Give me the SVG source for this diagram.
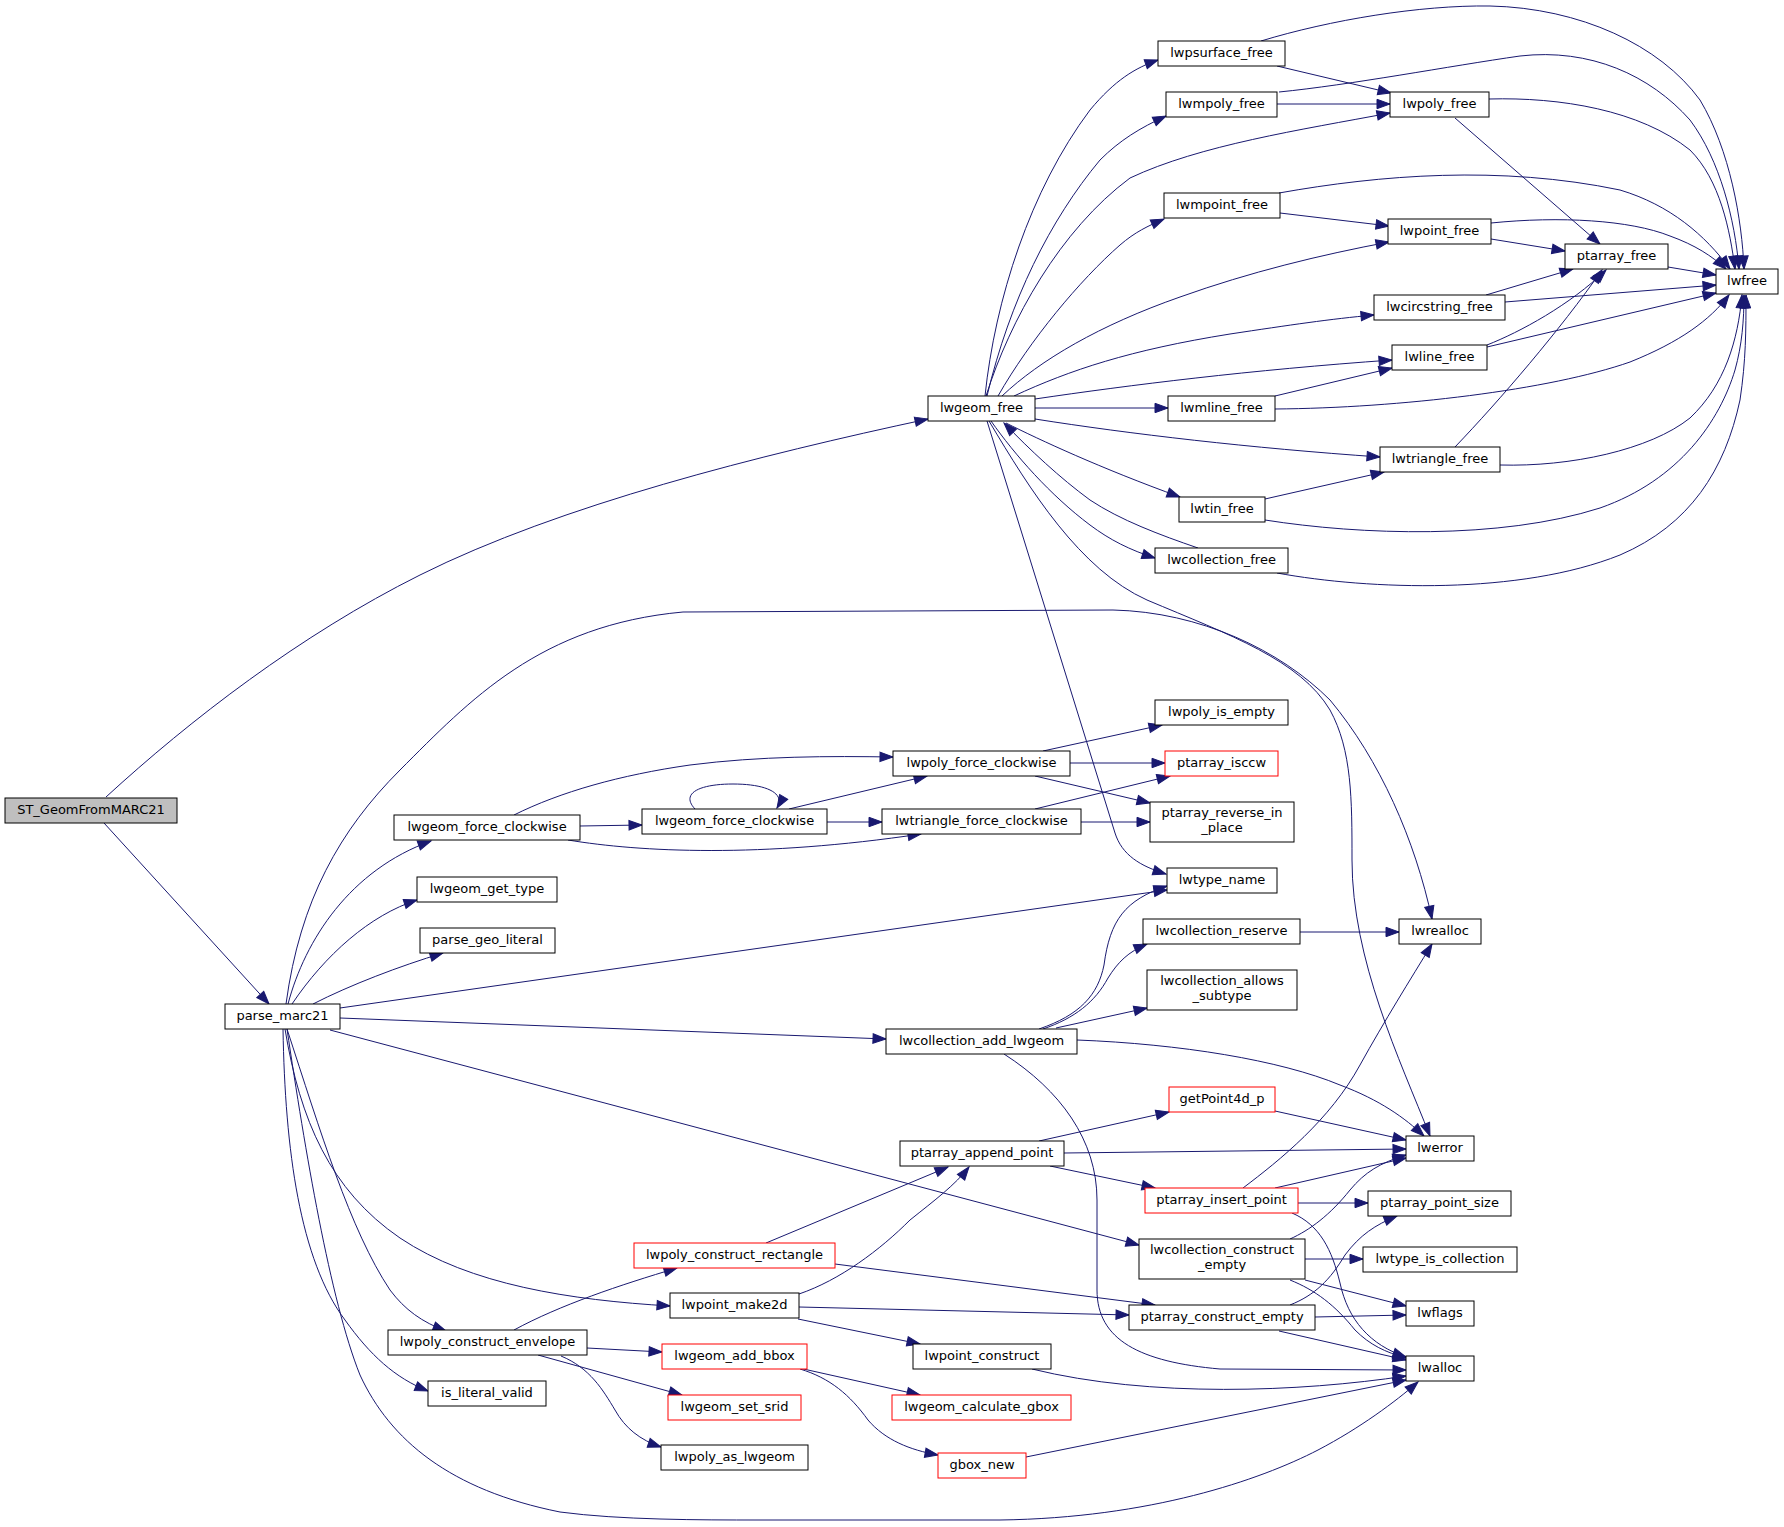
<svg xmlns="http://www.w3.org/2000/svg" width="1784" height="1527" viewBox="0 0 1784 1527">
<style>
.n rect{fill:#ffffff;stroke:#000000;stroke-width:1}
.r rect{stroke:#ff0000}
.c rect{fill:#bfbfbf}
text{font-family:"DejaVu Sans","Liberation Sans",sans-serif;font-size:13px;text-anchor:middle;fill:#000000}
#edges path{fill:none;stroke:#191970;stroke-width:1;marker-end:url(#a)}
</style>
<defs>
<marker id="a" markerUnits="userSpaceOnUse" markerWidth="15" markerHeight="11" viewBox="0 0 15 11" refX="13" refY="5" orient="auto" overflow="visible">
<path d="M0,0.3 L13,5 L0,9.7 z" fill="#191970" stroke="#191970" stroke-width="1"/>
</marker>
</defs>
<rect x="0" y="0" width="1784" height="1527" fill="#ffffff"/>
<g id="edges">
<path d="M106,797 C190,720 300,635 420,575 C560,505 760,455 928,419"/>
<path d="M104,823 L269,1004"/>
<path d="M288,1004 C305,940 350,870 431,841"/>
<path d="M292,1004 C325,955 370,915 417,900"/>
<path d="M313,1004 C350,985 400,966 443,953"/>
<path d="M286,1004 C300,900 340,830 400,770 C470,700 540,625 683,612 L1113,610 C1200,612 1280,650 1330,700 C1380,760 1415,840 1432,919"/>
<path d="M989,421 C1030,490 1080,570 1147,600 C1230,635 1300,660 1330,710 C1352,750 1352,800 1352,860 C1352,960 1400,1060 1430,1136"/>
<path d="M987,421 L1115,833 C1122,855 1140,866 1166,874"/>
<path d="M985,396 C995,300 1030,190 1090,110 C1115,80 1135,68 1158,60"/>
<path d="M987,396 C1010,300 1050,220 1100,160 C1120,140 1140,128 1166,116"/>
<path d="M986,396 C1010,320 1060,230 1130,178 C1200,145 1300,130 1390,113"/>
<path d="M998,396 C1030,340 1080,280 1120,245 C1135,232 1148,226 1164,219"/>
<path d="M1002,396 C1040,360 1100,325 1180,297 C1250,272 1320,255 1389,242"/>
<path d="M1014,396 C1070,370 1130,350 1230,334 C1290,325 1330,319 1374,315"/>
<path d="M1035,399 C1130,385 1250,370 1392,360"/>
<path d="M1035,408 L1168,408"/>
<path d="M1035,419 C1130,434 1250,448 1380,457"/>
<path d="M1006,423 C1040,440 1100,468 1180,497"/>
<path d="M1198,548 C1160,535 1120,520 1090,500 C1060,478 1030,450 1004,423"/>
<path d="M991,421 C1015,455 1050,495 1090,525 C1110,540 1130,550 1155,558"/>
<path d="M1261,41 C1330,20 1420,5 1490,6 C1580,8 1660,45 1700,100 C1730,150 1742,220 1744,269"/>
<path d="M1277,66 L1391,93"/>
<path d="M1277,104 L1390,104"/>
<path d="M1279,92 C1350,85 1450,66 1520,56 C1590,48 1650,75 1690,120 C1720,160 1735,220 1739,269"/>
<path d="M1489,99 C1560,97 1640,110 1690,150 C1720,180 1730,230 1735,269"/>
<path d="M1455,118 L1600,244"/>
<path d="M1279,193 C1380,175 1500,165 1620,190 C1670,205 1705,235 1730,269"/>
<path d="M1280,213 L1389,226"/>
<path d="M1491,223 C1560,216 1630,220 1670,236 C1695,245 1712,256 1726,269"/>
<path d="M1491,239 L1565,251"/>
<path d="M1668,267 L1716,275"/>
<path d="M1486,295 L1573,269"/>
<path d="M1505,302 L1716,285"/>
<path d="M1487,345 C1520,332 1570,305 1606,270"/>
<path d="M1487,347 L1716,293"/>
<path d="M1275,396 L1392,368"/>
<path d="M1275,409 C1400,408 1550,390 1630,362 C1680,342 1710,320 1729,295"/>
<path d="M1455,447 C1500,400 1560,330 1602,270"/>
<path d="M1500,465 C1570,467 1650,450 1690,418 C1725,385 1738,340 1742,295"/>
<path d="M1265,499 L1384,472"/>
<path d="M1265,520 C1360,535 1500,540 1600,508 C1680,480 1720,420 1735,370 C1742,345 1744,320 1744,295"/>
<path d="M1277,573 C1370,590 1520,595 1620,555 C1690,525 1725,470 1740,400 C1746,360 1746,330 1746,295"/>
<path d="M514,815 C560,792 620,775 690,765 C760,756 830,756 893,757"/>
<path d="M580,826 L642,825"/>
<path d="M568,840 C640,852 760,858 921,834"/>
<path d="M695,809 C680,793 700,784 733,784 C766,784 786,793 777,808"/>
<path d="M789,809 L927,776"/>
<path d="M827,822 L882,822"/>
<path d="M1043,751 L1162,725"/>
<path d="M1070,763 L1165,763"/>
<path d="M1035,776 L1150,803"/>
<path d="M1035,809 L1170,776"/>
<path d="M1081,822 L1150,822"/>
<path d="M340,1008 L1167,890"/>
<path d="M340,1018 L886,1039"/>
<path d="M330,1030 L1139,1245"/>
<path d="M285,1029 C300,1120 330,1190 400,1238 C470,1285 570,1300 670,1306"/>
<path d="M287,1029 C320,1130 350,1230 390,1290 C405,1310 422,1322 446,1331"/>
<path d="M283,1029 C285,1150 300,1260 345,1320 C370,1355 395,1378 428,1391"/>
<path d="M287,1029 C305,1150 330,1300 360,1375 C390,1440 450,1490 560,1512 C620,1520 700,1520 760,1520 L1000,1520 C1150,1518 1260,1480 1318,1450 C1360,1428 1395,1402 1418,1382"/>
<path d="M514,1330 C560,1305 620,1285 677,1268"/>
<path d="M587,1348 L662,1352"/>
<path d="M538,1355 L682,1395"/>
<path d="M561,1356 C590,1368 603,1390 615,1410 C625,1428 640,1440 661,1447"/>
<path d="M766,1243 L948,1167"/>
<path d="M835,1264 L1155,1305"/>
<path d="M799,1294 C840,1280 880,1250 910,1220 C935,1200 955,1185 969,1167"/>
<path d="M799,1307 L1129,1315"/>
<path d="M798,1319 L920,1344"/>
<path d="M799,1368 L920,1395"/>
<path d="M800,1369 C830,1378 850,1395 868,1420 C885,1440 910,1450 938,1455"/>
<path d="M1032,1369 C1150,1398 1300,1392 1406,1376"/>
<path d="M1026,1457 L1406,1380"/>
<path d="M1039,1029 C1080,1015 1098,995 1104,965 C1110,920 1125,900 1167,886"/>
<path d="M1043,1029 C1075,1018 1095,1002 1108,978 C1118,962 1128,952 1147,944"/>
<path d="M1056,1028 L1147,1008"/>
<path d="M1077,1040 C1180,1044 1280,1060 1340,1085 C1380,1100 1405,1118 1424,1136"/>
<path d="M1004,1054 C1060,1090 1097,1140 1097,1200 L1097,1290 C1097,1340 1140,1362 1220,1369 L1406,1370"/>
<path d="M1300,932 L1399,932"/>
<path d="M1275,1111 L1406,1140"/>
<path d="M1039,1141 L1169,1112"/>
<path d="M1064,1153 L1406,1149"/>
<path d="M1050,1166 L1155,1188"/>
<path d="M1243,1188 C1280,1160 1330,1120 1360,1065 C1385,1020 1410,980 1432,944"/>
<path d="M1275,1188 L1406,1158"/>
<path d="M1298,1203 L1368,1203"/>
<path d="M1292,1213 C1320,1225 1332,1250 1340,1283 C1348,1320 1370,1345 1406,1357"/>
<path d="M1290,1239 C1310,1230 1330,1215 1350,1190 C1365,1172 1380,1163 1406,1155"/>
<path d="M1305,1259 L1363,1259"/>
<path d="M1305,1280 L1406,1306"/>
<path d="M1290,1280 C1315,1290 1335,1305 1355,1330 C1370,1345 1385,1352 1406,1358"/>
<path d="M1290,1305 C1315,1295 1330,1280 1345,1255 C1360,1235 1375,1225 1397,1216"/>
<path d="M1315,1317 L1406,1315"/>
<path d="M1279,1331 L1406,1360"/>
</g>
<g id="n1" class="n c"><rect x="5" y="798" width="172" height="25"/><text x="91" y="814">ST_GeomFromMARC21</text></g>
<g id="n2" class="n"><rect x="225" y="1004" width="115" height="25"/><text x="282.5" y="1020">parse_marc21</text></g>
<g id="n3" class="n"><rect x="928" y="396" width="107" height="25"/><text x="981.5" y="412">lwgeom_free</text></g>
<g id="n4" class="n"><rect x="1158" y="41" width="127" height="25"/><text x="1221.5" y="57">lwpsurface_free</text></g>
<g id="n5" class="n"><rect x="1166" y="92" width="111" height="25"/><text x="1221.5" y="108">lwmpoly_free</text></g>
<g id="n6" class="n"><rect x="1390" y="92" width="99" height="25"/><text x="1439.5" y="108">lwpoly_free</text></g>
<g id="n7" class="n"><rect x="1164" y="193" width="116" height="25"/><text x="1222" y="209">lwmpoint_free</text></g>
<g id="n8" class="n"><rect x="1388" y="219" width="103" height="25"/><text x="1439.5" y="235">lwpoint_free</text></g>
<g id="n9" class="n"><rect x="1565" y="244" width="103" height="25"/><text x="1616.5" y="260">ptarray_free</text></g>
<g id="n10" class="n"><rect x="1716" y="269" width="62" height="25"/><text x="1747" y="285">lwfree</text></g>
<g id="n11" class="n"><rect x="1374" y="295" width="131" height="25"/><text x="1439.5" y="311">lwcircstring_free</text></g>
<g id="n12" class="n"><rect x="1392" y="345" width="95" height="25"/><text x="1439.5" y="361">lwline_free</text></g>
<g id="n13" class="n"><rect x="1168" y="396" width="107" height="25"/><text x="1221.5" y="412">lwmline_free</text></g>
<g id="n14" class="n"><rect x="1380" y="447" width="120" height="25"/><text x="1440" y="463">lwtriangle_free</text></g>
<g id="n15" class="n"><rect x="1179" y="497" width="86" height="25"/><text x="1222" y="513">lwtin_free</text></g>
<g id="n16" class="n"><rect x="1155" y="548" width="133" height="25"/><text x="1221.5" y="564">lwcollection_free</text></g>
<g id="n17" class="n"><rect x="1155" y="700" width="133" height="25"/><text x="1221.5" y="716">lwpoly_is_empty</text></g>
<g id="n18" class="n"><rect x="893" y="751" width="177" height="25"/><text x="981.5" y="767">lwpoly_force_clockwise</text></g>
<g id="n19" class="n r"><rect x="1165" y="751" width="113" height="25"/><text x="1221.5" y="767">ptarray_isccw</text></g>
<g id="n20" class="n"><rect x="394" y="815" width="186" height="25"/><text x="487" y="831">lwgeom_force_clockwise</text></g>
<g id="n21" class="n"><rect x="642" y="809" width="185" height="25"/><text x="734.5" y="825">lwgeom_force_clockwise</text></g>
<g id="n22" class="n"><rect x="882" y="809" width="199" height="25"/><text x="981.5" y="825">lwtriangle_force_clockwise</text></g>
<g id="n23" class="n"><rect x="1150" y="802" width="144" height="40"/><text x="1222" y="817">ptarray_reverse_in</text><text x="1222" y="832">_place</text></g>
<g id="n24" class="n"><rect x="1167" y="868" width="110" height="25"/><text x="1222" y="884">lwtype_name</text></g>
<g id="n25" class="n"><rect x="417" y="877" width="140" height="25"/><text x="487" y="893">lwgeom_get_type</text></g>
<g id="n26" class="n"><rect x="420" y="928" width="135" height="25"/><text x="487.5" y="944">parse_geo_literal</text></g>
<g id="n27" class="n"><rect x="1143" y="919" width="157" height="25"/><text x="1221.5" y="935">lwcollection_reserve</text></g>
<g id="n28" class="n"><rect x="1399" y="919" width="82" height="25"/><text x="1440" y="935">lwrealloc</text></g>
<g id="n29" class="n"><rect x="1147" y="970" width="150" height="40"/><text x="1222" y="985">lwcollection_allows</text><text x="1222" y="1000">_subtype</text></g>
<g id="n30" class="n"><rect x="886" y="1029" width="191" height="25"/><text x="981.5" y="1045">lwcollection_add_lwgeom</text></g>
<g id="n31" class="n r"><rect x="1169" y="1087" width="106" height="25"/><text x="1222" y="1103">getPoint4d_p</text></g>
<g id="n32" class="n"><rect x="1406" y="1136" width="68" height="25"/><text x="1440" y="1152">lwerror</text></g>
<g id="n33" class="n"><rect x="900" y="1141" width="164" height="25"/><text x="982" y="1157">ptarray_append_point</text></g>
<g id="n34" class="n r"><rect x="1145" y="1188" width="153" height="25"/><text x="1221.5" y="1204">ptarray_insert_point</text></g>
<g id="n35" class="n"><rect x="1368" y="1191" width="143" height="25"/><text x="1439.5" y="1207">ptarray_point_size</text></g>
<g id="n36" class="n"><rect x="1139" y="1239" width="166" height="40"/><text x="1222" y="1254">lwcollection_construct</text><text x="1222" y="1269">_empty</text></g>
<g id="n37" class="n"><rect x="1363" y="1247" width="154" height="25"/><text x="1440" y="1263">lwtype_is_collection</text></g>
<g id="n38" class="n r"><rect x="634" y="1243" width="201" height="25"/><text x="734.5" y="1259">lwpoly_construct_rectangle</text></g>
<g id="n39" class="n"><rect x="670" y="1293" width="129" height="25"/><text x="734.5" y="1309">lwpoint_make2d</text></g>
<g id="n40" class="n"><rect x="1129" y="1305" width="186" height="25"/><text x="1222" y="1321">ptarray_construct_empty</text></g>
<g id="n41" class="n"><rect x="1406" y="1301" width="68" height="25"/><text x="1440" y="1317">lwflags</text></g>
<g id="n42" class="n"><rect x="388" y="1330" width="199" height="25"/><text x="487.5" y="1346">lwpoly_construct_envelope</text></g>
<g id="n43" class="n r"><rect x="662" y="1344" width="145" height="25"/><text x="734.5" y="1360">lwgeom_add_bbox</text></g>
<g id="n44" class="n"><rect x="913" y="1344" width="138" height="25"/><text x="982" y="1360">lwpoint_construct</text></g>
<g id="n45" class="n"><rect x="1406" y="1356" width="68" height="25"/><text x="1440" y="1372">lwalloc</text></g>
<g id="n46" class="n r"><rect x="668" y="1395" width="133" height="25"/><text x="734.5" y="1411">lwgeom_set_srid</text></g>
<g id="n47" class="n r"><rect x="892" y="1395" width="179" height="25"/><text x="981.5" y="1411">lwgeom_calculate_gbox</text></g>
<g id="n48" class="n"><rect x="428" y="1381" width="118" height="25"/><text x="487" y="1397">is_literal_valid</text></g>
<g id="n49" class="n"><rect x="661" y="1445" width="147" height="25"/><text x="734.5" y="1461">lwpoly_as_lwgeom</text></g>
<g id="n50" class="n r"><rect x="938" y="1453" width="88" height="25"/><text x="982" y="1469">gbox_new</text></g>
</svg>
